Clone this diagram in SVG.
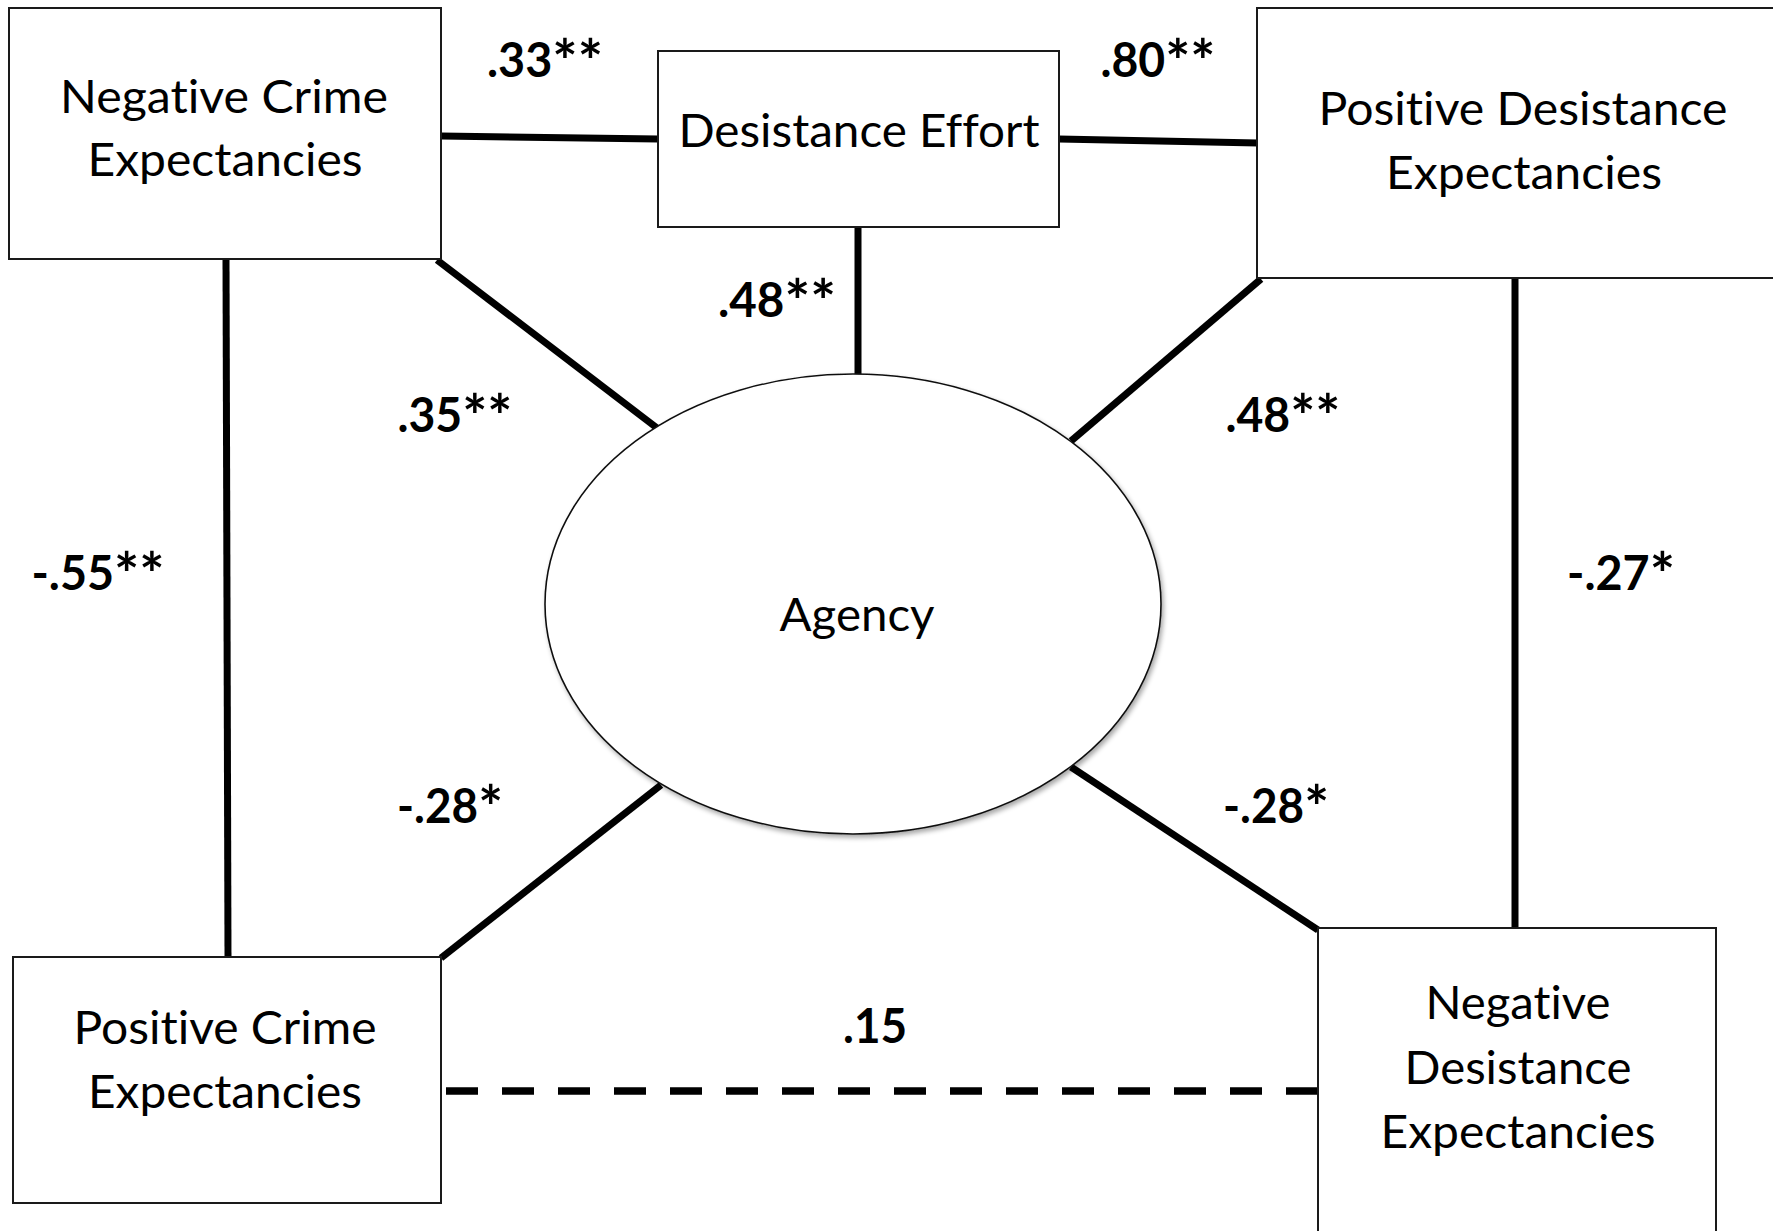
<svg xmlns="http://www.w3.org/2000/svg" width="1773" height="1231" viewBox="0 0 1773 1231">
  <style>
    .box { fill: #ffffff; stroke: #1a1a1a; stroke-width: 2; }
    .oval { fill: #ffffff; stroke: #111111; stroke-width: 1.6; }
    text { font-variant-ligatures: none; font-feature-settings: "liga" 0; }
    .lbl { font-family: Lato, "Liberation Sans", sans-serif; font-size: 46px; fill: #000000; text-anchor: middle; }
    .coef { font-family: Lato, "Liberation Sans", sans-serif; font-size: 47px; font-weight: bold; fill: #000000; text-anchor: middle; }
    .ast { font-size: 60px; }
    .conn { stroke: #000000; stroke-width: 7; fill: none; }
    .dash { stroke: #000000; stroke-width: 7.5; fill: none; stroke-dasharray: 32 24; }
  </style>
  <defs>
    <filter id="soft" x="-10%" y="-10%" width="120%" height="120%">
      <feGaussianBlur in="SourceAlpha" stdDeviation="2.5"/>
      <feOffset dx="1.5" dy="2.5" result="b"/>
      <feComponentTransfer><feFuncA type="linear" slope="0.35"/></feComponentTransfer>
      <feMerge><feMergeNode/><feMergeNode in="SourceGraphic"/></feMerge>
    </filter>
  </defs>
  <rect x="0" y="0" width="1773" height="1231" fill="#ffffff"/>

  <g id="connectors">
    <line class="conn" x1="441" y1="136" x2="658" y2="139"/>
    <line class="conn" x1="1059" y1="139" x2="1258" y2="143"/>
    <line class="conn" x1="858" y1="227" x2="858" y2="375"/>
    <line class="conn" x1="437" y1="260" x2="657" y2="428"/>
    <line class="conn" x1="1261" y1="279" x2="1071" y2="441"/>
    <line class="conn" x1="661" y1="785" x2="441" y2="958"/>
    <line class="conn" x1="1071" y1="767" x2="1318" y2="930"/>
    <line class="conn" x1="226" y1="259" x2="228" y2="957"/>
    <line class="conn" x1="1515" y1="278" x2="1515" y2="928"/>
    <line class="dash" x1="446" y1="1091" x2="1318" y2="1091"/>
  </g>

  <g id="labels">
    <text class="coef" x="545" y="77" textLength="116" lengthAdjust="spacingAndGlyphs">.33<tspan class="ast" dy="6">**</tspan></text>
    <text class="coef" x="1158" y="77" textLength="115" lengthAdjust="spacingAndGlyphs">.80<tspan class="ast" dy="6">**</tspan></text>
    <text class="coef" x="777" y="317" textLength="118" lengthAdjust="spacingAndGlyphs">.48<tspan class="ast" dy="6">**</tspan></text>
    <text class="coef" x="455" y="432" textLength="115" lengthAdjust="spacingAndGlyphs">.35<tspan class="ast" dy="6">**</tspan></text>
    <text class="coef" x="1283" y="432" textLength="115" lengthAdjust="spacingAndGlyphs">.48<tspan class="ast" dy="6">**</tspan></text>
    <text class="coef" x="98" y="590" textLength="133" lengthAdjust="spacingAndGlyphs">-.55<tspan class="ast" dy="6">**</tspan></text>
    <text class="coef" x="1621" y="590" textLength="108" lengthAdjust="spacingAndGlyphs">-.27<tspan class="ast" dy="6">*</tspan></text>
    <text class="coef" x="450" y="823" textLength="106" lengthAdjust="spacingAndGlyphs">-.28<tspan class="ast" dy="6">*</tspan></text>
    <text class="coef" x="1276" y="823" textLength="106" lengthAdjust="spacingAndGlyphs">-.28<tspan class="ast" dy="6">*</tspan></text>
    <text class="coef" x="875" y="1043" textLength="64" lengthAdjust="spacingAndGlyphs">.15</text>
  </g>

  <g id="neg-crime">
    <rect class="box" x="9" y="8" width="432" height="251"/>
    <text class="lbl" x="224" y="113" textLength="328" lengthAdjust="spacingAndGlyphs">Negative Crime</text>
    <text class="lbl" x="225" y="176" textLength="275" lengthAdjust="spacingAndGlyphs">Expectancies</text>
  </g>

  <g id="desistance-effort">
    <rect class="box" x="658" y="51" width="401" height="176"/>
    <text class="lbl" x="859" y="147" textLength="361" lengthAdjust="spacingAndGlyphs">Desistance Effort</text>
  </g>

  <g id="pos-desistance">
    <rect class="box" x="1257" y="8" width="530" height="270"/>
    <text class="lbl" x="1523" y="125" textLength="409" lengthAdjust="spacingAndGlyphs">Positive Desistance</text>
    <text class="lbl" x="1524" y="189" textLength="276" lengthAdjust="spacingAndGlyphs">Expectancies</text>
  </g>

  <g id="agency">
    <ellipse class="oval" cx="853" cy="604" rx="308" ry="230" filter="url(#soft)"/>
    <text class="lbl" x="857" y="631" textLength="155" lengthAdjust="spacingAndGlyphs">Agency</text>
  </g>

  <g id="pos-crime">
    <rect class="box" x="13" y="957" width="428" height="246"/>
    <text class="lbl" x="225" y="1044" textLength="303" lengthAdjust="spacingAndGlyphs">Positive Crime</text>
    <text class="lbl" x="225" y="1108" textLength="274" lengthAdjust="spacingAndGlyphs">Expectancies</text>
  </g>

  <g id="neg-desistance">
    <rect class="box" x="1318" y="928" width="398" height="320"/>
    <text class="lbl" x="1518" y="1019" textLength="185" lengthAdjust="spacingAndGlyphs">Negative</text>
    <text class="lbl" x="1518" y="1084" textLength="227" lengthAdjust="spacingAndGlyphs">Desistance</text>
    <text class="lbl" x="1518" y="1148" textLength="275" lengthAdjust="spacingAndGlyphs">Expectancies</text>
  </g>
</svg>
